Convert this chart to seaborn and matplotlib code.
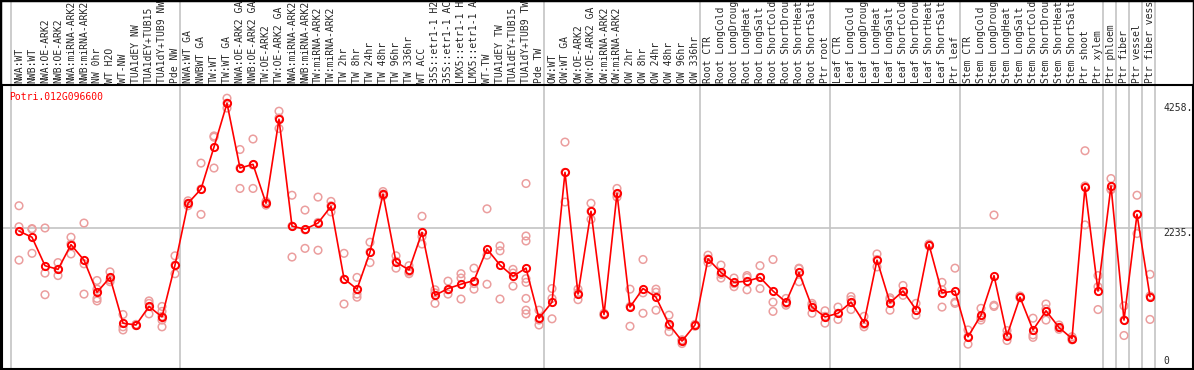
import numpy as np
import pandas as pd
import matplotlib
matplotlib.use("Agg")
import matplotlib.pyplot as plt
import matplotlib.transforms as mtransforms
from matplotlib.patches import Rectangle
import seaborn as sns

# --- Data ---
GENE = "Potri.012G096600"

# condition labels as far as they show in the header (long names are cut at the top)
labels = [
    "NWA:WT", "NWB:WT", "NWA:OE-ARK2", "NWB:OE-ARK2", "NWA:miRNA-ARK2", "NWB:miRNA-ARK2",
    "NW 0hr", "WT H2O", "WT-NW", "TUA1dEY NW", "TUA1dEY+TUB15", "TUA1dY+TUB9 NW", "Pde NW",
    "NWA:WT GA", "NWBWT GA", "TW:WT", "TW:WT GA", "NWA:OE-ARK2 GA", "NWB:OE-ARK2 GA",
    "TW:OE-ARK2", "TW:OE-ARK2 GA", "NWA:miRNA-ARK2", "NWB:miRNA-ARK2", "TW:miRNA-ARK2",
    "TW:miRNA-ARK2", "TW 2hr", "TW 8hr", "TW 24hr", "TW 48hr", "TW 96hr", "TW 336hr", "WT ACC",
    "35S::etr1-1 H2", "35S::etr1-1 AC", "LMX5::etr1-1 H", "LMX5::etr1-1 A", "WT-TW",
    "TUA1dEY TW", "TUA1dEY+TUB15", "TUA1dY+TUB9 TW", "Pde TW",
    "OW:WT", "OW:WT GA", "OW:OE-ARK2", "OW:OE-ARK2 GA", "OW:miRNA-ARK2", "OW:miRNA-ARK2",
    "OW 2hr", "OW 8hr", "OW 24hr", "OW 48hr", "OW 96hr", "OW 336hr",
    "Root CTR", "Root LongCold", "Root LongDroug", "Root LongHeat", "Root LongSalt",
    "Root ShortCold", "Root ShortDrou", "Root ShortHeat", "Root ShortSalt", "Ptr root",
    "Leaf CTR", "Leaf LongCold", "Leaf LongDroug", "Leaf LongHeat", "Leaf LongSalt",
    "Leaf ShortCold", "Leaf ShortDrou", "Leaf ShortHeat", "Leaf ShortSalt", "Ptr leaf",
    "Stem CTR", "Stem LongCold", "Stem LongDroug", "Stem LongHeat", "Stem LongSalt",
    "Stem ShortCold", "Stem ShortDrou", "Stem ShortHeat", "Stem ShortSalt", "Ptr shoot",
    "Ptr xylem",
    "Ptr phloem", "Ptr fiber", "Ptr vessel", "Ptr fiber vess",
]

group_sizes = [13, 28, 12, 10, 10, 11, 1, 1, 1, 1]

means = [
    2190, 2090, 1630, 1570, 1970, 1720, 1200, 1440, 700, 670, 970, 800, 1640,
    2640, 2870, 3550, 4258, 3210, 3270, 2640, 4000, 2270, 2220, 2320, 2590, 1420, 1250,
    1850, 2790, 1690, 1560, 2170, 1150, 1260, 1330, 1390, 1900, 1640, 1460, 1590, 780,
    1040, 3140, 1170, 2510, 840, 2800, 960, 1260, 1120, 680, 410, 670,
    1740, 1520, 1360, 1380, 1440, 1220, 1040, 1520, 960, 800,
    860, 1040, 710, 1720, 1030, 1220, 920, 1970, 1190, 1220,
    480, 830, 1470, 500, 1120, 590, 900, 630, 450, 2900, 1220,
    2920, 750, 2460, 1130,
]

replicates = [
    [2600, 2260, 1720], [2220, 2230, 1830], [2240, 1510, 1160], [1680, 1570, 1470],
    [2090, 1980, 1820], [2320, 1660, 1170], [1390, 1250, 1100, 1060], [1530, 1400, 1370],
    [840, 590, 640], [660, 670, 680], [1060, 1020, 850], [970, 890, 810, 750, 640],
    [1790, 1500, 1640],
    [2680, 2600, 2640], [3290, 2460, 2870], [3730, 3710, 3210], [4340, 4180, 4260],
    [3510, 2880, 3210], [3680, 2880, 3260], [2670, 2610, 2640], [4130, 3850, 4020],
    [2770, 1770, 2270], [2530, 1910, 2210], [2740, 1880, 2330], [2670, 2500, 2600],
    [1830, 1010, 1410], [1440, 1170, 1120], [2010, 1680, 1850], [2830, 2760, 2790],
    [1790, 1590, 1700], [1630, 1500, 1530], [2430, 1980, 2100], [1240, 1020, 1190],
    [1380, 1170, 1240], [1500, 1430, 1090], [1590, 1250, 1340], [2550, 1330, 1800],
    [1950, 1870, 1090], [1570, 1300, 1510],
    [2960, 2110, 2030, 1420, 1360, 1100, 910, 850], [910, 670, 750],
    [1260, 770, 1100], [3630, 2660, 3140], [1250, 1080, 1190], [2640, 2380, 2510],
    [860, 830, 840], [2880, 2740, 2790], [1250, 650, 970], [1730, 860, 1190],
    [1250, 1200, 910], [830, 560, 650], [430, 370, 420], [680, 650, 670],
    [1800, 1680, 1740], [1640, 1430, 1490], [1430, 1290, 1340], [1470, 1440, 1240],
    [1630, 1260, 1440], [1730, 1040, 890], [1100, 990, 1020], [1580, 1370, 1590],
    [1020, 860, 990], [900, 700, 810],
    [960, 760, 860], [1130, 920, 1080], [810, 640, 680], [1820, 1610, 1730],
    [1080, 910, 1110], [1310, 1150, 1210], [1020, 830, 910], [1980, 1950, 1970],
    [1360, 960, 1240], [1590, 1020, 1040],
    [590, 360, 480], [940, 750, 790], [2450, 990, 970], [580, 420, 510],
    [1140, 1110, 1120], [780, 510, 470], [1010, 750, 930], [670, 600, 630],
    [480, 430, 450], [3490, 2290, 2920], [1470, 1290, 920],
    [3040, 2870, 2860], [980, 500, 750], [2770, 2150, 2460], [1490, 760, 1140],
]

ytick_values = [4258, 2235, 0]
ytick_labels = ["4258.", "2235.", "0"]

# --- Style ---
sns.set_style("white")
plt.rcParams["font.family"] = ["DejaVu Sans Mono"]

MEAN_COLOR = "#ff0000"
REP_COLOR = "#eb9e9e"
GRID_COLOR = "#c4c4c4"
FS = 7.0

W, H = 1194, 370
fig = plt.figure(figsize=(W / 100, H / 100), dpi=100)
# plot region: x 2..1193 px, y 85..369 px
ax = fig.add_axes([2 / W, 1 / H, 1191 / W, 284 / H])

pos = np.arange(len(labels))
mean_df = pd.DataFrame({"pos": pos, "value": means})
rep_df = pd.DataFrame(
    [(i, v) for i, vals in enumerate(replicates) for v in vals], columns=["pos", "value"]
)

# gridline and group separators (separators run through the header too)
ax.axhline(ytick_values[1], color=GRID_COLOR, lw=1.2, zorder=0)
starts = np.concatenate([[0], np.cumsum(group_sizes)])
for s in starts:
    ax.axvline(s - 8 / 13, ymin=0, ymax=369 / 284, color=GRID_COLOR, lw=1.2,
               clip_on=False, zorder=0)

sns.scatterplot(data=rep_df, x="pos", y="value", ax=ax, marker="o", s=30,
                facecolor="none", edgecolor=REP_COLOR, linewidth=1.1, zorder=2, legend=False)
sns.lineplot(data=mean_df, x="pos", y="value", ax=ax, color=MEAN_COLOR, lw=1.2,
             marker="o", markersize=5.2, markerfacecolor="none", markeredgecolor=MEAN_COLOR,
             markeredgewidth=1.4, zorder=3, legend=False)

ax.set_xlim((2 - 19) / 13, (1193 - 19) / 13)
ax.set_ylim(-42, 4554)
ax.set_xticks([])
ax.set_yticks([])
ax.set_xlabel("")
ax.set_ylabel("")
for sp in ax.spines.values():
    sp.set_color("black")
    sp.set_linewidth(1.5)

# rotated condition labels above the plot
trans = mtransforms.blended_transform_factory(ax.transData, ax.transAxes)
for i, lab in enumerate(labels):
    ax.text(i, 1 + 2 / 284, lab, rotation=90, ha="center", va="bottom",
            fontsize=FS, transform=trans, clip_on=False)

# value labels on the right
for v, t in zip(ytick_values, ytick_labels):
    ax.text(88.0, v, t, ha="left", va="bottom" if v == 0 else "top", fontsize=FS)

fig.text(9.5 / W, 1 - 97 / H, GENE, color=MEAN_COLOR, ha="left", va="center", fontsize=FS)

fig.patches.append(Rectangle((0, 0), 1, 1, transform=fig.transFigure, fill=False,
                             ec="black", lw=2.5))

fig.savefig("out.png", dpi=100)
